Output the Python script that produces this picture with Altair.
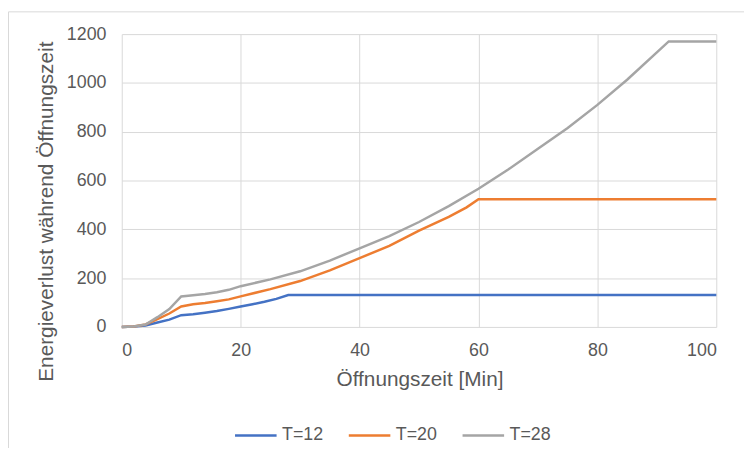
import altair as alt
import pandas as pd

# Opening time [min] and energy loss per series
minutes_12 = [0, 2, 4, 6, 8, 10, 12, 14, 16, 18, 20, 22, 24, 26, 28, 100]
energy_12 = [0, 2, 6, 18, 30, 48, 52, 58, 65, 74, 84, 93, 103, 115, 131, 131]

minutes_20 = [0, 2, 4, 6, 8, 10, 12, 14, 16, 18, 20, 25, 30, 35, 40, 45, 50, 55, 58, 60, 100]
energy_20 = [0, 2, 10, 32, 55, 84, 93, 98, 105, 113, 125, 155, 188, 232, 282, 332, 395, 451, 490, 523, 523]

minutes_28 = [0, 2, 4, 6, 8, 10, 12, 14, 16, 18, 20, 25, 30, 35, 40, 45, 50, 55, 60, 65, 70, 75, 80, 85, 90, 92, 100]
energy_28 = [0, 2, 10, 40, 73, 125, 130, 135, 142, 152, 167, 195, 228, 272, 322, 372, 430, 495, 566, 645, 730, 815, 910, 1013, 1125, 1170, 1170]

series_names = ["T=12", "T=20", "T=28"]
series_colors = ["#4472C4", "#ED7D31", "#A5A5A5"]
x_ticks = [0, 20, 40, 60, 80, 100]
y_ticks = [0, 200, 400, 600, 800, 1000, 1200]

rows = []
for name, xs, ys in zip(series_names, [minutes_12, minutes_20, minutes_28], [energy_12, energy_20, energy_28]):
    for xv, yv in zip(xs, ys):
        rows.append({"series": name, "t": xv, "e": yv})
df = pd.DataFrame(rows)

FONT = "Liberation Sans"
TXT = "#595959"

lines = alt.Chart(df).mark_line(strokeWidth=2.5).encode(
    x=alt.X("t:Q", scale=alt.Scale(domain=[0, 100], nice=False),
            axis=alt.Axis(values=x_ticks, format="d", title="Öffnungszeit [Min]", labelPadding=15,
                          titleY=53, titleBaseline="middle", titleX=301)),
    y=alt.Y("e:Q", scale=alt.Scale(domain=[0, 1200], nice=False),
            axis=alt.Axis(values=y_ticks, format="d", title="Energieverlust während Öffnungszeit",
                          labelPadding=16, titleX=-76, titleY=179, titleBaseline="middle",
                          titleAlign="center")),
    color=alt.Color("series:N",
                    scale=alt.Scale(domain=series_names, range=series_colors),
                    legend=alt.Legend(title=None, orient="none", direction="horizontal",
                                      legendX=113, legendY=383, symbolType="stroke",
                                      symbolSize=1764, symbolStrokeWidth=2.5,
                                      labelOffset=4, columnPadding=20, padding=0,
                                      labelFont=FONT, labelFontSize=18, labelColor=TXT)),
)

border = alt.Chart(alt.Data(values=[{}])).mark_rect(
    filled=False, stroke="#d9d9d9", strokeWidth=1, clip=False
).encode(
    x=alt.value(-114.5), x2=alt.value(640), y=alt.value(-22.5), y2=alt.value(440)
)

chart = alt.layer(border, lines).properties(
    width=601, height=296,
    padding={"left": 115, "top": 24, "right": 28, "bottom": 120},
    autosize=alt.AutoSizeParams(type="none"),
    background="white",
).configure_view(stroke=None).configure_axis(
    grid=True, gridColor="#d9d9d9", gridWidth=1, domain=False, ticks=False, tickSize=0,
    labelFont=FONT, labelFontSize=18, labelColor=TXT,
    titleFont=FONT, titleFontSize=21, titleColor=TXT, titleFontWeight="normal",
)

chart.save("out.html", embed_options={"renderer": "svg", "actions": False})
